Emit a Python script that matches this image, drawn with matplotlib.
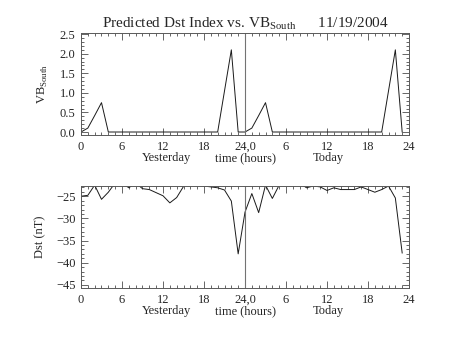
#!/usr/bin/env python
"""Predicted Dst vs VB_South, two-day panel (yesterday / today)."""
import matplotlib

matplotlib.use("Agg")
import matplotlib.pyplot as plt
import numpy as np
from matplotlib.ticker import FormatStrFormatter, MultipleLocator

plt.rcParams["font.family"] = "Liberation Serif"
plt.rcParams["mathtext.fontset"] = "custom"
plt.rcParams["mathtext.rm"] = "Liberation Serif"

# hours 0..47 (yesterday 0-23, today 24-47)
hours = np.arange(48)
vb_south = [0.0, 0.1, 0.42, 0.75, 0.0, 0.0, 0.0, 0.0, 0.0, 0.0, 0.0, 0.0,
            0.0, 0.0, 0.0, 0.0, 0.0, 0.0, 0.0, 0.0, 0.0, 1.05, 2.1, 0.0,
            0.0, 0.1, 0.42, 0.75, 0.0, 0.0, 0.0, 0.0, 0.0, 0.0, 0.0, 0.0,
            0.0, 0.0, 0.0, 0.0, 0.0, 0.0, 0.0, 0.0, 0.0, 1.05, 2.1, 0.0]
dst = [-25.0, -24.8, -22.5, -25.7, -24.1, -22.0, -22.0, -23.1, -22.0, -23.3, -23.5, -24.2,
       -24.9, -26.5, -25.3, -22.8, -22.0, -22.0, -22.7, -22.9, -23.1, -23.6, -26.1, -38.0,
       -28.6, -24.4, -28.7, -22.5, -25.5, -22.5, -22.0, -22.0, -22.0, -23.1, -22.7, -22.9,
       -23.7, -23.1, -23.5, -23.5, -23.5, -22.9, -23.5, -24.1, -23.5, -22.7, -25.4, -37.8]
xticks = [0, 6, 12, 18, 24, 30, 36, 42, 48]
xticklabels = ["0", "6", "12", "18", "24,0", "6", "12", "18", "24"]

FS = 9


def style(ax, ylim, major, minor):
    ax.set_xlim(0, 48)
    ax.set_ylim(*ylim)
    ax.set_xticks(xticks)
    ax.set_xticklabels(xticklabels)
    ax.xaxis.set_minor_locator(MultipleLocator(1))
    ax.yaxis.set_major_locator(MultipleLocator(major))
    ax.yaxis.set_minor_locator(MultipleLocator(minor))
    ax.tick_params(which="both", direction="in", top=True, right=True,
                   labelsize=FS, width=0.6, color="0.3", labelcolor="0.15")
    ax.tick_params(which="major", length=5, pad=4)
    ax.tick_params(which="minor", length=2.5)
    for s in ax.spines.values():
        s.set_linewidth(0.7)
        s.set_color("0.35")
    ax.axvline(24, color="0.45", lw=0.8)
    # day labels under the axis
    for x, t in [(0.26, "Yesterday"), (0.5, "time (hours)"), (0.755, "Today")]:
        ax.text(x, -0.225, t, transform=ax.transAxes, ha="center", va="center",
                fontsize=FS, color="0.15")


fig = plt.figure(figsize=(4.53, 3.40), dpi=100)
ax1 = fig.add_axes([0.1788, 0.6029, 0.7241, 0.30])
ax2 = fig.add_axes([0.1788, 0.1529, 0.7241, 0.30])

ax1.plot(hours, vb_south, color="0.1", lw=0.7)
style(ax1, (-0.077, 2.53), 0.5, 0.1)
ax1.yaxis.set_major_formatter(FormatStrFormatter("%.1f"))
ax1.set_ylabel(r"VB$_{\rm South}$", fontsize=FS, color="0.15")
ax1.yaxis.set_label_coords(-0.095, 0.5)
ax1.set_title(r"Predicted Dst Index vs. VB$_{\rm South}$      11/19/2004",
              fontsize=11, pad=4, color="0.15")

ax2.plot(hours, dst, color="0.1", lw=0.7)
style(ax2, (-45.7, -22.7), 5, 1)
ax2.set_ylabel("Dst (nT)", fontsize=FS, color="0.15")
ax2.yaxis.set_label_coords(-0.105, 0.5)

fig.savefig("out.png", dpi=100)
